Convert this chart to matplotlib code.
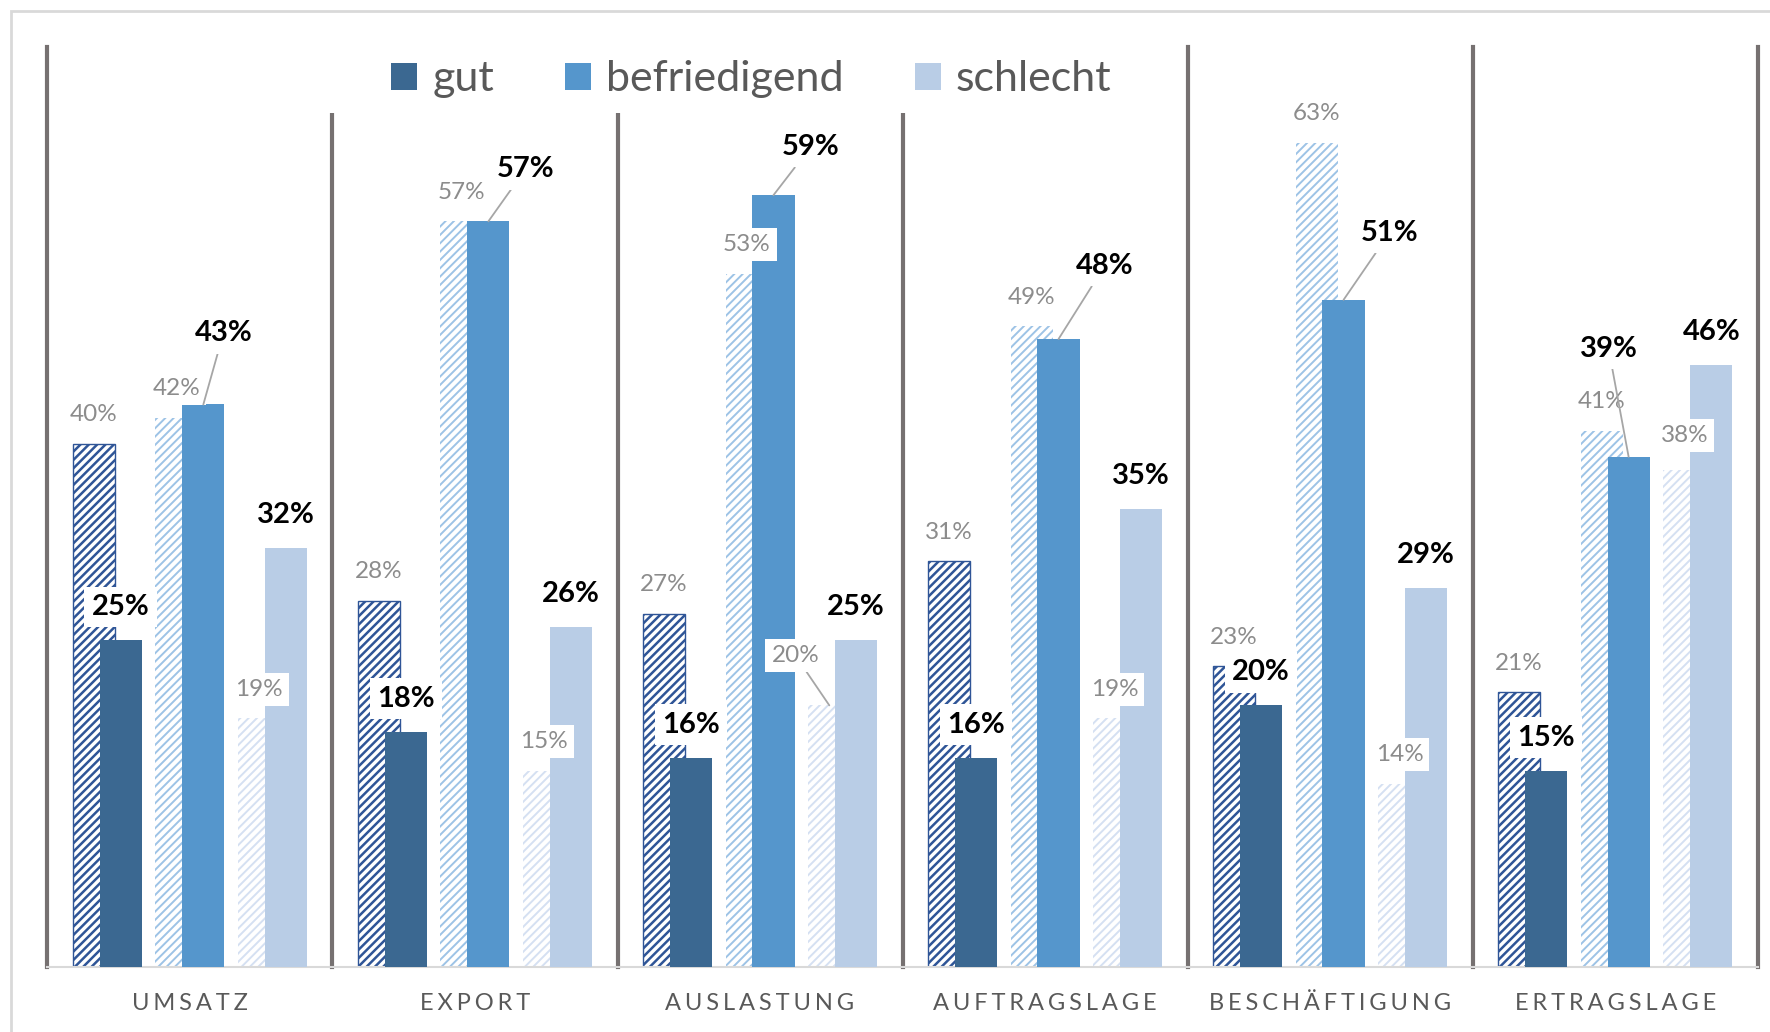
import numpy as np
import matplotlib.pyplot as plt
from matplotlib.patches import Patch, Rectangle

plt.rcParams['font.family'] = ['Lato', 'DejaVu Sans']
plt.rcParams['hatch.linewidth'] = 1.6

categories = ["UMSATZ", "EXPORT", "AUSLASTUNG", "AUFTRAGSLAGE", "BESCHÄFTIGUNG", "ERTRAGSLAGE"]
series = ["gut", "befriedigend", "schlecht"]

# hatched = previous survey, solid = current survey
gut_prev = [40, 28, 27, 31, 23, 21]
gut_now = [25, 18, 16, 16, 20, 15]
bef_prev = [42, 57, 53, 49, 63, 41]
bef_now = [43, 57, 59, 48, 51, 39]
schlecht_prev = [19, 15, 20, 19, 14, 38]
schlecht_now = [32, 26, 25, 35, 29, 46]

prev_vals = [gut_prev, bef_prev, schlecht_prev]
now_vals = [gut_now, bef_now, schlecht_now]

solid_colors = ["#3B6891", "#5596CC", "#B9CDE6"]
hatch_colors = ["#2F5597", "#9DC3E6", "#D5E0F2"]
hatch_widths = [1.8, 1.4, 1.4]

# label moves (pixels) for labels dragged away from their bar, with leader line
now_moves = {(1, 0): (20, 38), (1, 1): (37, 19), (1, 2): (37, 15),
             (1, 3): (46, 40), (1, 4): (46, 34), (1, 5): (-20, 75)}
prev_moves = {(2, 2): (-34, 21), (2, 5): (0, 5)}
leaders_prev = [(2, 2)]

fig = plt.figure(figsize=(17.7, 10.32), dpi=100)
ax = fig.add_axes([0.02678, 0.063, 0.9663, 0.8911])
ax.set_xlim(-0.5, 5.5)
ax.set_ylim(0, 70.3)

x = np.arange(len(categories))
group_off = [-0.29, 0.0, 0.29]
shift = 0.047
w = 0.148

for sep in np.arange(-0.5, 6):
    ax.axvline(sep, color="#767171", lw=3, zorder=1, clip_on=False)

box = dict(boxstyle="square,pad=0.25", fc="white", ec="none")
lead = dict(arrowstyle="-", color="#A6A6A6", lw=1.3, shrinkA=0, shrinkB=0)

for k in range(3):
    xp = x + group_off[k] - shift
    xn = x + group_off[k] + shift
    hb = ax.bar(xp, prev_vals[k], w, facecolor="white", edgecolor=hatch_colors[k],
                hatch="////", linewidth=1 if k == 0 else 0, zorder=2)
    for p in hb:
        if hasattr(p, "set_hatch_linewidth"):
            p.set_hatch_linewidth(hatch_widths[k])
    ax.bar(xn, now_vals[k], w, color=solid_colors[k], zorder=3)

    for i in range(len(categories)):
        dx, dy = prev_moves.get((k, i), (0, 0))
        ax.annotate(f"{prev_vals[k][i]}%", xy=(xp[i], prev_vals[k][i]),
                    xytext=(dx, 29 + dy), textcoords="offset pixels",
                    ha="center", va="center", fontsize=17.5, color="#8C8C8C",
                    bbox=box, zorder=5,
                    arrowprops=lead if (k, i) in leaders_prev else None)
        dx, dy = now_moves.get((k, i), (0, 0))
        ax.annotate(f"{now_vals[k][i]}%", xy=(xn[i], now_vals[k][i]),
                    xytext=(dx, 33 + dy), textcoords="offset pixels",
                    ha="center", va="center", fontsize=21, fontweight="bold",
                    color="black", bbox=box, zorder=6,
                    arrowprops=lead if (k, i) in now_moves else None)

ax.set_xticks(x)
ax.set_xticklabels(["\u2006".join(c) for c in categories], fontsize=17, color="#595959")
ax.tick_params(axis="x", length=0, pad=19)
ax.set_yticks([])
for s in ["top", "left", "right"]:
    ax.spines[s].set_visible(False)
ax.spines["bottom"].set_color("#D9D9D9")
ax.spines["bottom"].set_linewidth(1.5)

# white legend box hiding the separators behind it
ax.add_patch(Rectangle((0.1606, 0.9287), 0.5014, 0.09, transform=ax.transAxes,
                       facecolor="white", edgecolor="none", zorder=4, clip_on=False))

handles = [Patch(facecolor=c) for c in solid_colors]
leg = fig.legend(handles, series, loc="center", bbox_to_anchor=(0.4245, 0.923),
                 ncol=3, frameon=False, fontsize=31, handlelength=0.6,
                 handleheight=0.6, handletextpad=0.35, columnspacing=1.65,
                 borderpad=0, labelcolor="#595959")
leg.set_zorder(7)

fig.add_artist(Rectangle((11 / 1770, -0.1), 1.2, 1021 / 1032 + 0.1,
                         transform=fig.transFigure, fill=False,
                         edgecolor="#D9D9D9", lw=2))

fig.savefig("out.png", dpi=100)
